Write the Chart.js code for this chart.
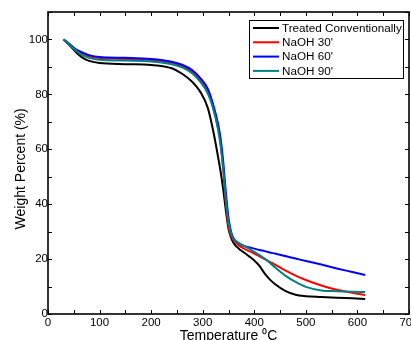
<!DOCTYPE html>
<html>
<head>
<meta charset="utf-8">
<script src="https://cdn.jsdelivr.net/npm/chart.js@4.4.1/dist/chart.umd.min.js"></script>
<style>
  html, body { margin: 0; padding: 0; background: #fff; }
  canvas { display: block; }
</style>
</head>
<body>
<canvas id="tga" width="411" height="340"></canvas>
<script>
// temperature (°C) shared by all curves
const temperature = [30, 40, 50, 60, 70, 80, 100, 150, 200, 240, 260, 280, 295, 310, 320, 330, 335, 340, 345, 350, 355, 360, 370, 380, 390, 400, 410, 420, 430, 440, 460, 480, 500, 530, 560, 590, 615];

// weight percent (%)
const conventional = [100, 98.2, 96.2, 94.3, 93.0, 92.2, 91.4, 91.0, 90.7, 89.5, 87.5, 84.5, 81.0, 75.0, 67.0, 57.0, 51.5, 45.0, 37.5, 31.0, 27.8, 25.8, 23.8, 22.4, 21.0, 19.5, 17.5, 14.8, 12.6, 10.9, 8.4, 7.0, 6.5, 6.2, 5.9, 5.7, 5.5];
const naoh30 = [100, 98.5, 96.8, 95.4, 94.5, 93.9, 93.2, 92.9, 92.5, 91.5, 90.3, 88.2, 85.3, 81.0, 75.5, 67.5, 61.5, 52.0, 40.5, 32.0, 28.5, 26.8, 25.0, 23.8, 22.9, 22.0, 21.0, 20.0, 19.0, 18.0, 15.9, 14.0, 12.4, 10.4, 8.8, 7.7, 6.9];
const naoh60 = [100, 98.6, 97.0, 95.8, 95.0, 94.3, 93.6, 93.3, 92.9, 91.9, 90.8, 88.8, 86.0, 82.0, 76.5, 69.0, 63.5, 55.0, 44.0, 35.0, 30.0, 27.5, 25.8, 24.8, 24.3, 23.8, 23.3, 22.9, 22.4, 22.0, 21.1, 20.2, 19.3, 18.0, 16.6, 15.3, 14.2];
const naoh90 = [100, 98.4, 96.6, 95.0, 94.0, 93.3, 92.6, 92.3, 92.0, 91.0, 89.8, 87.6, 84.6, 80.3, 75.0, 67.0, 61.0, 52.5, 41.5, 33.5, 29.5, 27.3, 25.8, 24.8, 23.8, 22.6, 21.5, 20.2, 18.7, 17.0, 14.0, 11.7, 9.9, 8.6, 8.3, 8.1, 8.0];

const seriesLabels = ['Treated Conventionally', "NaOH 30'", "NaOH 60'", "NaOH 90'"];
const seriesColors = ['#000000', '#ff0000', '#0000ff', '#008080'];
const seriesValues = [conventional, naoh30, naoh60, naoh90];

const xTicks = { min: 0, max: 700, step: 50, labelEvery: 100 };
const yTicks = { min: 0, max: 110, step: 10, labelEvery: 20, labelMax: 100 };

const fontFamily = '"Liberation Sans", Arial, sans-serif';

const datasets = seriesValues.map((vals, i) => ({
  label: seriesLabels[i],
  data: temperature.map((t, k) => ({ x: t, y: vals[k] })),
  borderColor: seriesColors[i],
  borderWidth: 2,
  pointRadius: 0,
  fill: false,
  cubicInterpolationMode: 'monotone',
  order: seriesValues.length - 1 - i,
}));

// box frame with inward ticks on all four sides
const frameTicks = {
  id: 'frameTicks',
  afterDatasetsDraw(chart) {
    const { ctx, chartArea: a, scales: { x, y } } = chart;
    ctx.save();
    ctx.strokeStyle = '#000';
    ctx.lineWidth = 1;
    ctx.beginPath();
    x.ticks.forEach(t => {
      const px = Math.round(x.getPixelForValue(t.value)) + 0.5;
      ctx.moveTo(px, a.bottom); ctx.lineTo(px, a.bottom - 4);
      ctx.moveTo(px, a.top); ctx.lineTo(px, a.top + 4);
    });
    y.ticks.forEach(t => {
      const py = Math.round(y.getPixelForValue(t.value)) + 0.5;
      ctx.moveTo(a.left, py); ctx.lineTo(a.left + 4, py);
      ctx.moveTo(a.right, py); ctx.lineTo(a.right - 4, py);
    });
    ctx.stroke();
    ctx.lineWidth = 1.6;
    ctx.strokeRect(a.left, a.top, a.right - a.left, a.bottom - a.top);
    ctx.restore();
  }
};

// boxed legend in the upper right corner
const boxLegend = {
  id: 'boxLegend',
  afterDraw(chart) {
    const { ctx } = chart;
    const bx = 249, by = 20, bw = 154, bh = 58, rowH = 14.3;
    ctx.save();
    ctx.fillStyle = '#fff';
    ctx.fillRect(bx, by, bw, bh);
    ctx.strokeStyle = '#000';
    ctx.lineWidth = 1;
    ctx.strokeRect(bx + 0.5, by + 0.5, bw, bh);
    ctx.font = '11.7px ' + fontFamily;
    ctx.textBaseline = 'middle';
    chart.data.datasets.forEach((ds, i) => {
      const cy = by + 8 + i * rowH;
      ctx.strokeStyle = ds.borderColor;
      ctx.lineWidth = 2;
      ctx.beginPath();
      ctx.moveTo(bx + 4, cy);
      ctx.lineTo(bx + 30, cy);
      ctx.stroke();
      ctx.fillStyle = '#000';
      ctx.fillText(ds.label, bx + 33, cy + 0.5);
    });
    ctx.restore();
  }
};

new Chart(document.getElementById('tga'), {
  type: 'line',
  data: { datasets },
  plugins: [frameTicks, boxLegend],
  options: {
    responsive: false,
    animation: false,
    layout: { padding: { top: 12, right: 2, left: 0, bottom: 0 } },
    plugins: { legend: { display: false }, tooltip: { enabled: false } },
    scales: {
      x: {
        type: 'linear',
        min: xTicks.min,
        max: xTicks.max,
        afterFit: s => { s.height = 26; s.paddingLeft = 0; s.paddingRight = 0; },
        grid: { display: false, drawTicks: false },
        border: { display: false },
        ticks: {
          stepSize: xTicks.step,
          autoSkip: false,
          maxRotation: 0,
          padding: 2,
          color: '#000',
          font: { family: fontFamily, size: 11.5 },
          callback: v => (v % xTicks.labelEvery === 0 ? v : ''),
        },
        title: {
          display: true,
          text: 'Temperature \u2070C',
          color: '#000',
          font: { family: fontFamily, size: 14, lineHeight: 1 },
          padding: { top: 0, bottom: -3 },
        },
      },
      y: {
        min: yTicks.min,
        max: yTicks.max,
        afterFit: s => { s.width = 48; s.paddingTop = 0; s.paddingBottom = 0; },
        grid: { display: false, drawTicks: false },
        border: { display: false },
        ticks: {
          stepSize: yTicks.step,
          autoSkip: false,
          padding: 0,
          color: '#000',
          font: { family: fontFamily, size: 11.5 },
          callback: v => (v % yTicks.labelEvery === 0 && v <= yTicks.labelMax ? v : ''),
        },
        title: {
          display: true,
          text: 'Weight Percent (%)   ',
          color: '#000',
          font: { family: fontFamily, size: 14, lineHeight: 1.2 },
          padding: { top: 12.6, bottom: 0 },
        },
      },
    },
  },
});
</script>
</body>
</html>
